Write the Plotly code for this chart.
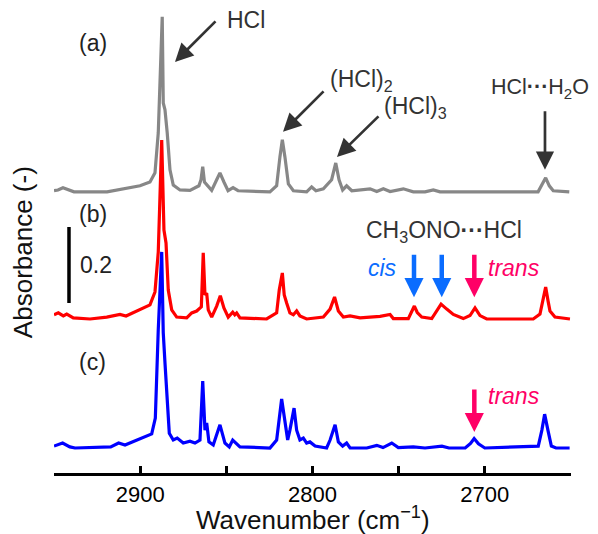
import plotly.graph_objects as go

# ---------------- data (wavenumber in cm-1, absorbance above each baseline) -------------
wn_a = [2950.0, 2947.7, 2944.8, 2941.9, 2938.4, 2919.2, 2910.0, 2900.1, 2894.3, 2891.4,
        2889.5, 2888.1, 2887.2, 2886.6, 2885.6, 2884.3, 2882.7, 2880.8, 2876.9, 2871.1,
        2868.2, 2865.9, 2864.7, 2863.7, 2862.7, 2860.6, 2858.5, 2855.6, 2853.7, 2851.4,
        2849.0, 2846.1, 2843.2, 2824.7, 2820.8, 2818.9, 2817.5, 2816.0, 2814.0, 2811.1,
        2803.4, 2800.5, 2798.0, 2793.7, 2791.8, 2788.9, 2786.5, 2784.6, 2782.5, 2780.2,
        2777.2, 2770.5, 2766.6, 2762.7, 2758.9, 2755.0, 2747.3, 2741.5, 2734.7, 2729.9,
        2726.0, 2669.1, 2667.0, 2664.7, 2662.6, 2660.3, 2651.0]
abs_a = [.003, .005, .011, .005, 0, 0, .007, .016, .026, .050,
         .155, .374, .461, .234, .216, .155, .058, .018, .005, .004,
         .011, .016, .032, .066, .026, .016, .004, .032, .050, .026,
         .003, .011, .003, 0, .016, .092, .137, .092, .021, .003,
         0, .013, .003, .008, .018, .032, .076, .032, .005, .016,
         .003, .005, .008, .001, .008, .001, .008, 0, 0, .005,
         0, 0, .016, .037, .016, .003, 0]

wn_b = [2950.0, 2947.5, 2944.6, 2942.6, 2938.8, 2929.1, 2919.4, 2911.7, 2908.2, 2900.1,
        2894.3, 2891.4, 2889.5, 2887.5, 2886.2, 2885.0, 2883.7, 2881.7, 2878.8, 2873.0,
        2870.1, 2867.2, 2864.5, 2863.4, 2862.4, 2861.4, 2860.5, 2858.5, 2855.6, 2853.5,
        2851.4, 2848.9, 2846.3, 2845.1, 2844.0, 2842.1, 2826.6, 2820.8, 2819.3, 2817.5,
        2816.4, 2815.0, 2813.1, 2811.1, 2809.2, 2807.3, 2803.4, 2793.7, 2791.8, 2789.8,
        2787.2, 2785.0, 2782.1, 2778.2, 2772.4, 2760.8, 2755.0, 2753.1, 2744.4, 2742.4,
        2740.9, 2739.2, 2736.6, 2730.8, 2727.9, 2725.4, 2722.1, 2718.3, 2712.5, 2708.6,
        2705.7, 2702.8, 2698.9, 2671.9, 2668.0, 2666.2, 2664.7, 2663.3, 2662.2, 2659.3,
        2650.6]
abs_b = [.011, .016, .008, .013, .003, 0, .005, .012, .008, .024,
         .037, .071, .176, .471, .234, .200, .076, .024, .005, .003,
         .016, .021, .032, .174, .063, .068, .024, .005, .034, .061,
         .029, .005, .018, .011, .016, .003, 0, .016, .076, .121,
         .063, .042, .016, .011, .021, .008, 0, .005, .016, .026,
         .058, .021, .005, .008, .003, .007, .012, .001, .001, .021,
         .034, .017, .005, .001, .021, .039, .026, .012, .001, .009,
         .029, .009, 0, 0, .013, .047, .084, .047, .021, .005,
         0]

wn_c = [2950.0, 2945.0, 2940.8, 2937.8, 2917.1, 2912.5, 2908.8, 2900.5, 2896.4, 2893.3,
        2891.2, 2889.5, 2887.5, 2886.6, 2885.6, 2884.3, 2883.1, 2880.8, 2878.5, 2875.0,
        2871.1, 2868.2, 2865.3, 2863.7, 2862.4, 2861.4, 2860.1, 2857.6, 2853.7, 2850.8,
        2848.3, 2846.3, 2844.4, 2842.1, 2824.7, 2820.8, 2817.9, 2816.0, 2814.4, 2813.1,
        2810.7, 2809.2, 2807.3, 2805.3, 2803.4, 2801.5, 2798.5, 2791.8, 2789.8, 2786.9,
        2785.0, 2782.5, 2780.2, 2778.2, 2768.5, 2762.7, 2759.1, 2754.0, 2750.2, 2741.5,
        2734.7, 2724.9, 2720.8, 2711.4, 2708.3, 2706.2, 2703.7, 2700.0, 2669.0, 2666.9,
        2665.3, 2663.4, 2661.4, 2658.7, 2650.8]
abs_c = [.005, .013, .003, 0, .003, .013, .008, .024, .032, .037,
         .079, .311, .516, .303, .224, .134, .039, .021, .026, .013,
         .018, .013, .021, .176, .047, .066, .016, .008, .061, .013,
         .003, .021, .013, .003, 0, .021, .129, .066, .021, .047,
         .105, .047, .021, .026, .013, .016, .005, 0, .021, .061,
         .016, .005, .013, 0, 0, .007, .001, .013, .001, .003,
         0, .005, 0, 0, .012, .025, .011, 0, .005, .047,
         .089, .047, .005, 0, 0]

offsets = {"a": 0.674, "b": 0.3395, "c": 0.0}
labels = ["(a)", "(b)", "(c)"]
tick_vals = [2950, 2900, 2850, 2800, 2750, 2700, 2650]
tick_text = ["", "2900", "", "2800", "", "2700", ""]
scale_bar = 0.2

FONT = "Liberation Sans, Arial, sans-serif"
GRAY, RED, BLUE = "#878787", "#ff0000", "#0000ff"
CIS, TRANS, DARK = "#0a6cff", "#ff0066", "#333333"
AFS = 23

fig = go.Figure()
for wn, ab, key, col in [(wn_a, abs_a, "a", GRAY), (wn_b, abs_b, "b", RED), (wn_c, abs_c, "c", BLUE)]:
    fig.add_trace(go.Scatter(x=wn, y=[v + offsets[key] for v in ab], mode="lines",
                             line=dict(color=col, width=3.2), showlegend=False, hoverinfo="skip"))

ann = []
def text(x, y, s, size=AFS, color="#222222", xanchor="left", italic=False, xref="x"):
    ann.append(dict(x=x, y=y, xref=xref, yref="y", text=f"<i>{s}</i>" if italic else s,
                    showarrow=False, xanchor=xanchor, yanchor="middle",
                    font=dict(family=FONT, size=size, color=color)))

def arrow(x, y, ax, ay, color=DARK, width=2.7, size=1.35):
    ann.append(dict(x=x, y=y, xref="x", yref="y", text="", showarrow=True, ax=ax, ay=ay,
                    arrowhead=2, arrowwidth=width, arrowsize=size, arrowcolor=color))

# panel labels
text(2936.7, 1.066, labels[0])
text(2936.7, 0.616, labels[1])
text(2936.7, 0.226, labels[2])
# scale bar label
text(2936.1, 0.4816, f"{scale_bar:g}")

text(2850.8, 1.126, "HCl", color=DARK)
arrow(2879.8, 1.016, 42, -42)
text(2791.0, 0.968, "(HCl)<sub>2</sub>", color=DARK)
arrow(2817.1, 0.832, 42, -42)
text(2759.7, 0.897, "(HCl)<sub>3</sub>", color=DARK)
arrow(2785.8, 0.766, 43, -42)
text(1.038, 0.947, "HCl<b>···</b>H<sub>2</sub>O", size=21.5, color=DARK, xanchor="right", xref="paper")
arrow(2665.1, 0.732, 0, -60)

text(2723.7, 0.571, "CH<sub>3</sub>ONO<b>···</b>HCl", color=DARK, xanchor="center")
text(2759.1, 0.474, "cis", color=CIS, xanchor="center", italic=True)
arrow(2741.1, 0.397, 0, -44, color=CIS, width=4.5, size=0.85)
arrow(2725.0, 0.397, 0, -44, color=CIS, width=4.5, size=0.85)
arrow(2706.1, 0.397, 0, -44, color=TRANS, width=4.5, size=0.85)
text(2683.1, 0.474, "trans", color=TRANS, xanchor="center", italic=True)
arrow(2706.1, 0.042, 0, -44, color=TRANS, width=4.5, size=0.85)
text(2683.1, 0.137, "trans", color=TRANS, xanchor="center", italic=True)

# axis titles
ann.append(dict(x=0.5, y=-0.099, xref="paper", yref="paper", text="Wavenumber (cm<sup>−1</sup>)",
                showarrow=False, xanchor="center", yanchor="middle",
                font=dict(family=FONT, size=26, color="#111111")))
ann.append(dict(x=-0.06, y=0.477, xref="paper", yref="paper", text="Absorbance (-)",
                showarrow=False, xanchor="center", yanchor="middle", textangle=-90,
                font=dict(family=FONT, size=26, color="#111111")))

fig.add_shape(type="line", xref="x", yref="y", x0=2941.3, x1=2941.3,
              y0=0.3816, y1=0.3816 + scale_bar, line=dict(color="black", width=3.5))

# page body has an 8 px margin, so the figure is 8 px smaller and shifted accordingly
fig.update_layout(
    width=590, height=526, margin=dict(l=46, r=27, t=2, b=61),
    paper_bgcolor="white", plot_bgcolor="white", annotations=ann,
    xaxis=dict(range=[2950, 2650], tickvals=tick_vals, ticktext=tick_text,
               ticks="inside", ticklen=7, tickwidth=3, tickcolor="black",
               showline=True, linewidth=3, linecolor="black", showgrid=False, zeroline=False,
               tickfont=dict(family=FONT, size=22, color="black")),
    yaxis=dict(range=[-0.0658, 1.1526], visible=False, showgrid=False, zeroline=False),
)
fig.write_html("out.html")
